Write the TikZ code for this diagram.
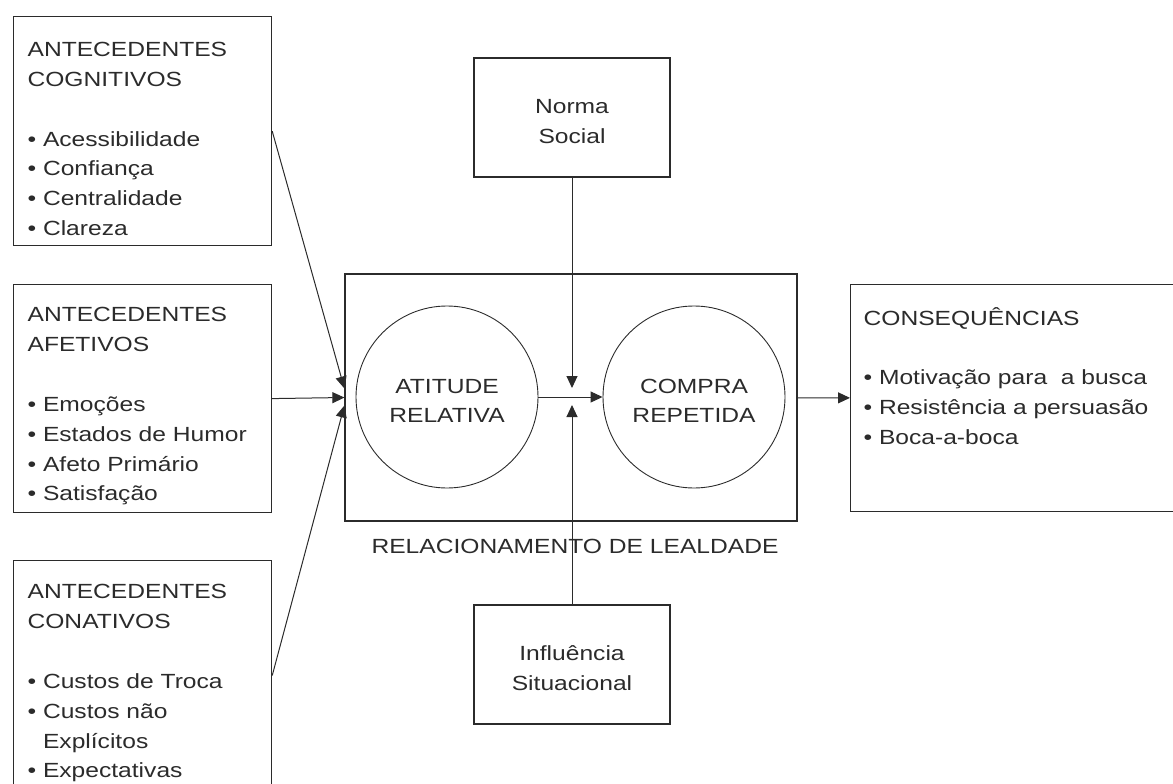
\documentclass[tikz,border=0pt]{standalone}
\usepackage{fontspec}
\setmainfont{Liberation Sans}[FakeStretch=1.2]
\usepackage{tikz}
\usetikzlibrary{arrows.meta, positioning, calc}
\definecolor{ink}{HTML}{2B2B2B}
\tikzstyle{box} = [rectangle, draw=ink, line width=1.2pt, inner xsep=14pt, inner ysep=0pt,
    text width=230pt, align=left, minimum height=229pt, anchor=north west,
    execute at begin node=\rule{0pt}{30pt}]
\tikzstyle{middlebox} = [rectangle, draw=ink, line width=1.2pt, align=center,
    minimum width=196pt, minimum height=119pt]
\tikzstyle{state} = [circle, draw=ink, line width=0.9pt, align=center, inner sep=0pt,
    minimum size=182pt]
\tikzstyle{line} = [draw=ink, line width=1pt, -{Triangle[length=12pt,width=11pt]}]

\begin{document}
\begin{tikzpicture}[x=1pt, y=-1pt, font=\fontsize{20.5}{29.8}\selectfont, text=ink]
      \useasboundingbox (0,0) rectangle (1173,784);
      \clip (0,0) rectangle (1173,784);
      % Antecedents
      \node [box] (cog) at (13,16) {ANTECEDENTES\\ COGNITIVOS\\[30pt] • Acessibilidade\\ • Confiança\\ • Centralidade\\ • Clareza};
      \node [box, minimum height=228pt] (afet) at (13,284) {ANTECEDENTES\\ AFETIVOS\\[30pt] • Emoções\\ • Estados de Humor\\ • Afeto Primário\\ • Satisfação};
      \node [box, minimum height=230pt] (conat) at (13,560) {ANTECEDENTES\\ CONATIVOS\\[30pt] • Custos de Troca\\ • Custos não\\ \hphantom{•}\ Explícitos\\ • Expectativas};
      % Loyalty relationship
      \node [draw=ink, line width=1.2pt, minimum width=452pt, minimum height=247pt] (lealdade) at (571,397.5) {};
      \node [state] (atitude) at (447,397) {\rule{0pt}{22pt}ATITUDE\\ RELATIVA};
      \node [state] (compra) at (694,397) {\rule{0pt}{22pt}COMPRA\\ REPETIDA};
      \node [anchor=base] (rellabel) at (575,553) {RELACIONAMENTO DE LEALDADE};
      \node [middlebox] (norma) at (572,117.5) {\rule{0pt}{22pt}Norma\\ Social};
      \node [middlebox] (influ) at (572,664.5) {\rule{0pt}{22pt}Influência\\ Situacional};
      % Consequences
      \node [box, text width=310pt, minimum height=227pt, inner xsep=13pt] (conseq) at (850,284) {CONSEQUÊNCIAS\\[30pt] • Motivação para\ \ a busca\\ • Resistência a persuasão\\ • Boca-a-boca\\[27pt] \mbox{}};
      % Arrow ends
      \coordinate (intop) at ([yshift=9pt]lealdade.west);
      \coordinate (inbot) at ([yshift=-8pt]lealdade.west);
      \coordinate (jtop) at (572,388);
      \coordinate (jbot) at (572,405);
      % Draw edges
      \path [line] (cog.east) -- (intop);
      \path [line] (afet.east) -- (lealdade.west);
      \path [line] (conat.east) -- (inbot);
      \path [line] (atitude) -- (compra);
      \path [line] (norma) -- (jtop);
      \path [line] (influ) -- (jbot);
      \path [line] (lealdade) -- (conseq);
  \end{tikzpicture}
\end{document}
